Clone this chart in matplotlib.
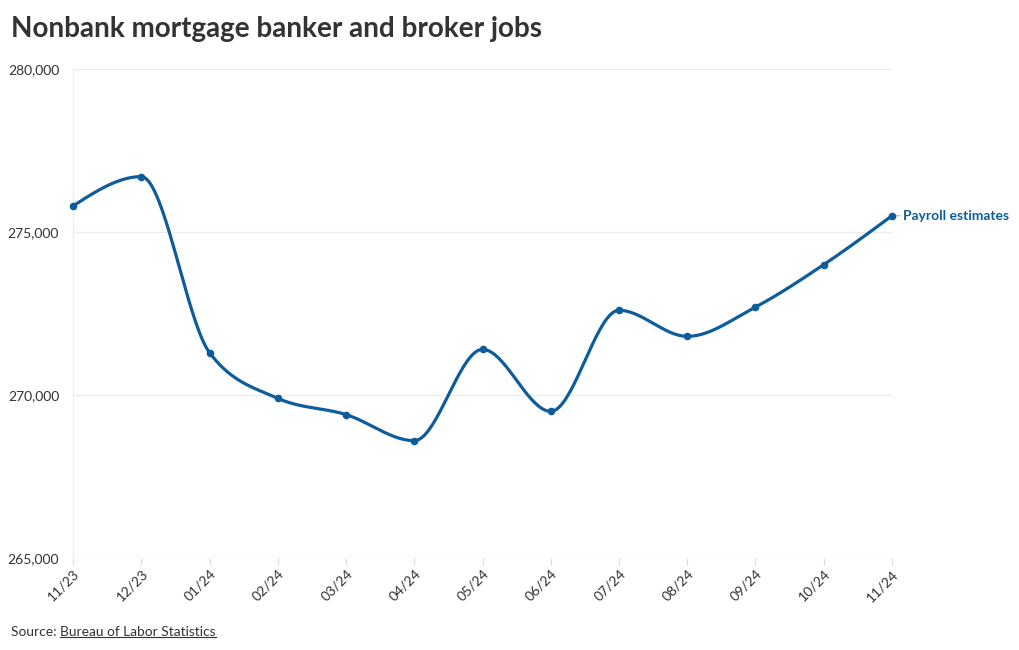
import matplotlib.pyplot as plt
import numpy as np

plt.rcParams['font.family'] = ['Lato', 'DejaVu Sans']

months = ['11/23', '12/23', '01/24', '02/24', '03/24', '04/24', '05/24',
          '06/24', '07/24', '08/24', '09/24', '10/24', '11/24']
payroll = [275800, 276700, 271300, 269900, 269400, 268600, 271400,
           269500, 272600, 271800, 272700, 274000, 275500]
y_ticks = [265000, 270000, 275000, 280000]

LINE = '#0d5c9b'
GRID = '#ececec'
TEXT = '#333333'


def monotone_curve(x, y, n=40):
    # same shape as d3 curveMonotoneX
    x = np.asarray(x, float)
    y = np.asarray(y, float)
    h = np.diff(x)
    s = np.diff(y) / h
    t = np.zeros_like(y)
    for i in range(1, len(y) - 1):
        p = (s[i - 1] * h[i] + s[i] * h[i - 1]) / (h[i - 1] + h[i])
        t[i] = (np.sign(s[i - 1]) + np.sign(s[i])) * min(abs(s[i - 1]), abs(s[i]), 0.5 * abs(p))
    t[0] = (3 * s[0] - t[1]) / 2
    t[-1] = (3 * s[-1] - t[-2]) / 2
    xs, ys = [], []
    for i in range(len(h)):
        u = np.linspace(0, 1, n)
        h00 = 2 * u**3 - 3 * u**2 + 1
        h10 = u**3 - 2 * u**2 + u
        h01 = -2 * u**3 + 3 * u**2
        h11 = u**3 - u**2
        xs.append(x[i] + u * h[i])
        ys.append(h00 * y[i] + h10 * h[i] * t[i] + h01 * y[i + 1] + h11 * h[i] * t[i + 1])
    return np.concatenate(xs), np.concatenate(ys)


fig = plt.figure(figsize=(10.2, 6.5), dpi=100)
ax = fig.add_axes([0.0716, 0.1415, 0.8029, 0.7523])

xi = np.arange(len(months))
cx, cy = monotone_curve(xi, payroll)
ax.plot(cx, cy, color=LINE, lw=2.3, solid_capstyle='round', zorder=3)
ax.scatter(xi, payroll, s=20, color=LINE, zorder=4, clip_on=False)

ax.set_xlim(0, len(months) - 1)
ax.set_ylim(265000, 280000)
ax.set_yticks(y_ticks)
ax.set_yticklabels([f'{v:,}' for v in y_ticks])
ax.set_xticks(xi)
ax.set_xticklabels(months, rotation=45, ha='right', rotation_mode='anchor')

ax.grid(axis='y', color=GRID, lw=0.9)
ax.set_axisbelow(True)
for side in ['top', 'right', 'bottom']:
    ax.spines[side].set_visible(False)
ax.spines['left'].set_color(GRID)
ax.spines['left'].set_linewidth(0.9)
ax.tick_params(axis='y', length=0, pad=10, labelsize=10, labelcolor=TEXT)
ax.tick_params(axis='x', length=5, color='#dddddd', width=0.9, pad=2,
               labelsize=10, labelcolor=TEXT)

# end label
ax.annotate('Payroll estimates', xy=(xi[-1], payroll[-1]), xytext=(8, 0),
            textcoords='offset points', va='center', ha='left',
            color=LINE, fontsize=10, fontweight='bold', annotation_clip=False)
ax.annotate('', xy=(xi[-1], payroll[-1]), xytext=(6, 0), textcoords='offset points',
            xycoords='data', annotation_clip=False,
            arrowprops=dict(arrowstyle='-', color='#bbbbbb', lw=0.8,
                            shrinkA=0, shrinkB=3))

fig.text(0.011, 0.955, 'Nonbank mortgage banker and broker jobs', fontsize=20.1,
         fontweight='bold', color=TEXT, va='center', ha='left')
src = fig.text(0.011, 0.028, 'Source: ', fontsize=9.9, color=TEXT, va='center', ha='left')
fig.canvas.draw()
bb = src.get_window_extent()
fig.text(bb.x1 / fig.bbox.width, 0.028, 'Bureau of Labor Statistics', fontsize=9.9,
         color=TEXT, va='center', ha='left')
bb2 = fig.texts[-1].get_window_extent()
fig.add_artist(plt.Line2D([bb2.x0 / 1020, bb2.x1 / 1020],
                          [(bb2.y0 + 1) / 650, (bb2.y0 + 1) / 650],
                          color=TEXT, lw=0.8))

fig.savefig('out.png', dpi=100, facecolor='white')
